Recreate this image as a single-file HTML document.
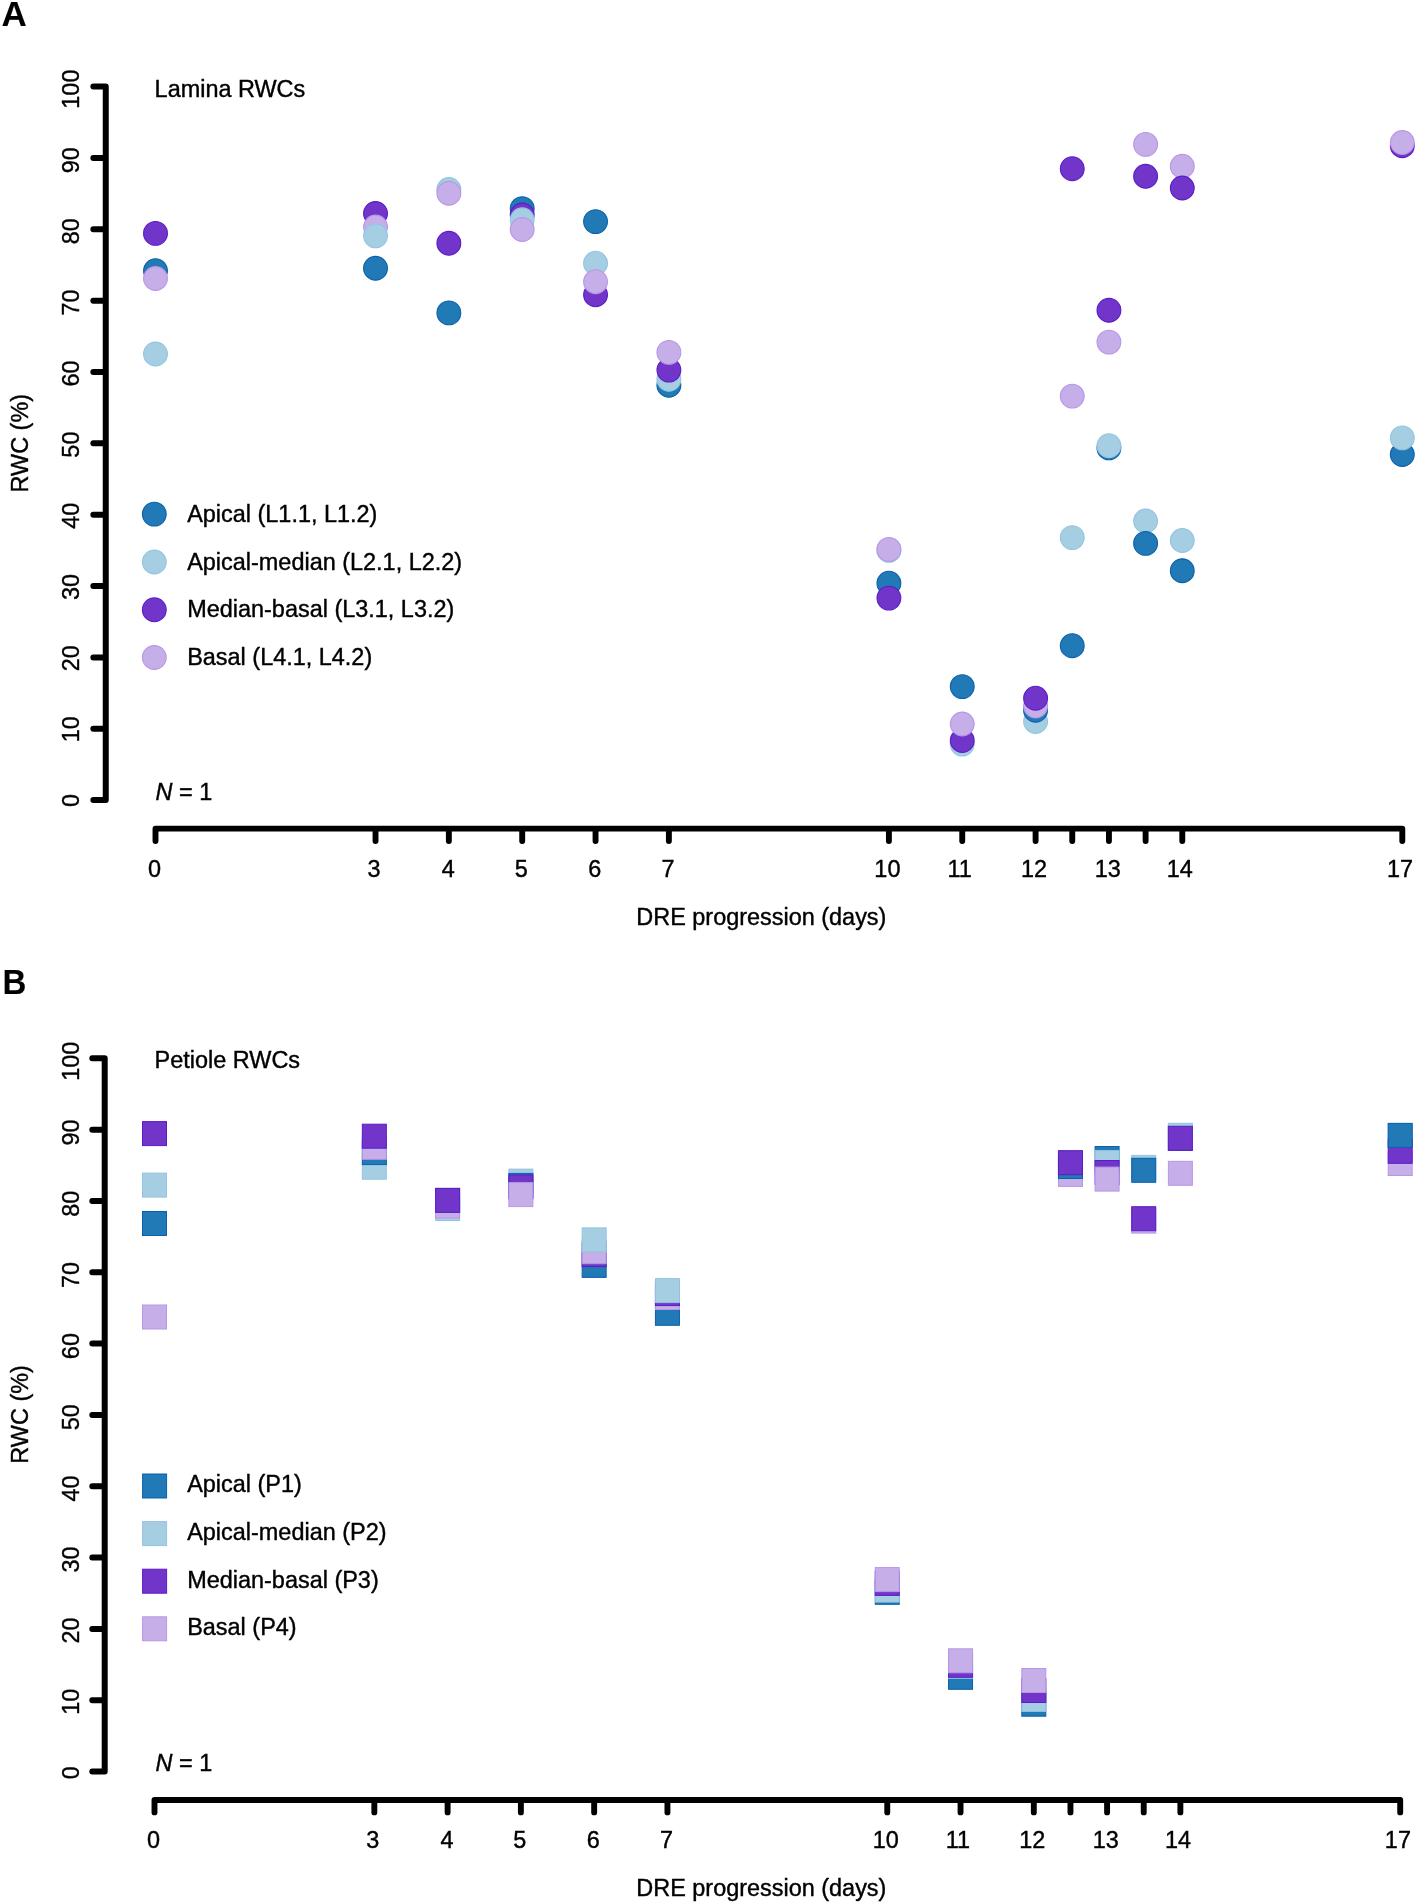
<!DOCTYPE html>
<html><head><meta charset="utf-8">
<style>
html,body{margin:0;padding:0;background:#fff;width:1418px;height:1904px;overflow:hidden;}
svg{display:block;will-change:transform;}
text{font-family:"Liberation Sans", sans-serif;fill:#000;stroke:#000;stroke-width:0.4px;}
</style></head><body>
<svg width="1418" height="1904" viewBox="0 0 1418 1904">
<rect width="1418" height="1904" fill="#fff"/>
<text x="1.5" y="26.0" font-size="35.0" font-weight="bold" style="stroke-width:0.1px">A</text>
<text x="0" y="0" transform="translate(2.4 994.0) scale(0.93 1)" font-size="35.5" font-weight="bold" style="stroke-width:0.1px">B</text>
<path d="M105.75,86.60 L105.75,800.10 M93.35,800.10 L105.75,800.10 M93.35,728.75 L105.75,728.75 M93.35,657.40 L105.75,657.40 M93.35,586.05 L105.75,586.05 M93.35,514.70 L105.75,514.70 M93.35,443.35 L105.75,443.35 M93.35,372.00 L105.75,372.00 M93.35,300.65 L105.75,300.65 M93.35,229.30 L105.75,229.30 M93.35,157.95 L105.75,157.95 M93.35,86.60 L105.75,86.60" stroke="#000" stroke-width="6.0" stroke-linecap="round" stroke-linejoin="round" fill="none"/>
<path d="M155.50,828.65 L1402.30,828.65 M155.50,828.65 L155.50,841.05 M375.52,828.65 L375.52,841.05 M448.86,828.65 L448.86,841.05 M522.21,828.65 L522.21,841.05 M595.55,828.65 L595.55,841.05 M668.89,828.65 L668.89,841.05 M888.91,828.65 L888.91,841.05 M962.25,828.65 L962.25,841.05 M1035.59,828.65 L1035.59,841.05 M1072.26,828.65 L1072.26,841.05 M1108.94,828.65 L1108.94,841.05 M1145.61,828.65 L1145.61,841.05 M1182.28,828.65 L1182.28,841.05 M1402.30,828.65 L1402.30,841.05" stroke="#000" stroke-width="5.9" stroke-linecap="round" stroke-linejoin="round" fill="none"/>
<text x="79.10" y="800.50" transform="rotate(-90 79.10 800.50)" text-anchor="middle" font-size="23.45">0</text>
<text x="79.10" y="729.32" transform="rotate(-90 79.10 729.32)" text-anchor="middle" font-size="23.45">10</text>
<text x="79.10" y="658.14" transform="rotate(-90 79.10 658.14)" text-anchor="middle" font-size="23.45">20</text>
<text x="79.10" y="586.96" transform="rotate(-90 79.10 586.96)" text-anchor="middle" font-size="23.45">30</text>
<text x="79.10" y="515.78" transform="rotate(-90 79.10 515.78)" text-anchor="middle" font-size="23.45">40</text>
<text x="79.10" y="444.60" transform="rotate(-90 79.10 444.60)" text-anchor="middle" font-size="23.45">50</text>
<text x="79.10" y="373.50" transform="rotate(-90 79.10 373.50)" text-anchor="middle" font-size="23.45">60</text>
<text x="79.10" y="302.40" transform="rotate(-90 79.10 302.40)" text-anchor="middle" font-size="23.45">70</text>
<text x="79.10" y="231.30" transform="rotate(-90 79.10 231.30)" text-anchor="middle" font-size="23.45">80</text>
<text x="79.10" y="160.20" transform="rotate(-90 79.10 160.20)" text-anchor="middle" font-size="23.45">90</text>
<text x="79.10" y="89.10" transform="rotate(-90 79.10 89.10)" text-anchor="middle" font-size="23.45">100</text>
<text x="27.9" y="443.20" transform="rotate(-90 27.9 443.20)" text-anchor="middle" font-size="23.45">RWC (%)</text>
<text x="154.40" y="876.70" text-anchor="middle" font-size="23.45">0</text>
<text x="374.02" y="876.70" text-anchor="middle" font-size="23.45">3</text>
<text x="448.16" y="876.70" text-anchor="middle" font-size="23.45">4</text>
<text x="521.21" y="876.70" text-anchor="middle" font-size="23.45">5</text>
<text x="594.65" y="876.70" text-anchor="middle" font-size="23.45">6</text>
<text x="667.94" y="876.70" text-anchor="middle" font-size="23.45">7</text>
<text x="887.41" y="876.70" text-anchor="middle" font-size="23.45">10</text>
<text x="959.55" y="876.70" text-anchor="middle" font-size="23.45">11</text>
<text x="1034.09" y="876.70" text-anchor="middle" font-size="23.45">12</text>
<text x="1107.69" y="876.70" text-anchor="middle" font-size="23.45">13</text>
<text x="1179.83" y="876.70" text-anchor="middle" font-size="23.45">14</text>
<text x="1400.00" y="876.70" text-anchor="middle" font-size="23.45">17</text>
<text x="636.3" y="924.50" font-size="23.45">DRE progression (days)</text>
<text x="154.6" y="96.90" font-size="23.45">Lamina RWCs</text>
<text x="155.5" y="800.20" font-size="23.45"><tspan font-style="italic">N</tspan> = 1</text>
<circle cx="154.30" cy="514.10" r="11.9" fill="#2179b5" stroke="#0a60ab" stroke-width="1.1"/>
<text x="187.2" y="521.70" font-size="23.45">Apical (L1.1, L1.2)</text>
<circle cx="154.30" cy="562.00" r="11.9" fill="#a6cee3" stroke="#94c4e0" stroke-width="1.1"/>
<text x="187.2" y="569.60" font-size="23.45">Apical-median (L2.1, L2.2)</text>
<circle cx="154.30" cy="609.80" r="11.9" fill="#7136c9" stroke="#5a1cc8" stroke-width="1.1"/>
<text x="187.2" y="617.40" font-size="23.45">Median-basal (L3.1, L3.2)</text>
<circle cx="154.30" cy="657.50" r="11.9" fill="#c6aee8" stroke="#b896e6" stroke-width="1.1"/>
<text x="187.2" y="665.10" font-size="23.45">Basal (L4.1, L4.2)</text>
<circle cx="155.50" cy="233.40" r="11.9" fill="#7136c9" stroke="#5a1cc8" stroke-width="1.1"/>
<circle cx="155.50" cy="270.70" r="11.9" fill="#2179b5" stroke="#0a60ab" stroke-width="1.1"/>
<circle cx="155.50" cy="278.50" r="11.9" fill="#c6aee8" stroke="#b896e6" stroke-width="1.1"/>
<circle cx="155.50" cy="354.00" r="11.9" fill="#a6cee3" stroke="#94c4e0" stroke-width="1.1"/>
<circle cx="375.52" cy="268.30" r="11.9" fill="#2179b5" stroke="#0a60ab" stroke-width="1.1"/>
<circle cx="375.52" cy="213.50" r="11.9" fill="#7136c9" stroke="#5a1cc8" stroke-width="1.1"/>
<circle cx="375.52" cy="227.00" r="11.9" fill="#c6aee8" stroke="#b896e6" stroke-width="1.1"/>
<circle cx="375.52" cy="235.85" r="11.9" fill="#a6cee3" stroke="#94c4e0" stroke-width="1.1"/>
<circle cx="448.86" cy="312.90" r="11.9" fill="#2179b5" stroke="#0a60ab" stroke-width="1.1"/>
<circle cx="448.86" cy="243.30" r="11.9" fill="#7136c9" stroke="#5a1cc8" stroke-width="1.1"/>
<circle cx="448.86" cy="189.50" r="11.9" fill="#a6cee3" stroke="#94c4e0" stroke-width="1.1"/>
<circle cx="448.86" cy="193.30" r="11.9" fill="#c6aee8" stroke="#b896e6" stroke-width="1.1"/>
<circle cx="522.21" cy="208.60" r="11.9" fill="#2179b5" stroke="#0a60ab" stroke-width="1.1"/>
<circle cx="522.21" cy="215.05" r="11.9" fill="#7136c9" stroke="#5a1cc8" stroke-width="1.1"/>
<circle cx="522.21" cy="219.80" r="11.9" fill="#a6cee3" stroke="#94c4e0" stroke-width="1.1"/>
<circle cx="522.21" cy="229.50" r="11.9" fill="#c6aee8" stroke="#b896e6" stroke-width="1.1"/>
<circle cx="595.55" cy="221.60" r="11.9" fill="#2179b5" stroke="#0a60ab" stroke-width="1.1"/>
<circle cx="595.55" cy="294.80" r="11.9" fill="#7136c9" stroke="#5a1cc8" stroke-width="1.1"/>
<circle cx="595.55" cy="263.20" r="11.9" fill="#a6cee3" stroke="#94c4e0" stroke-width="1.1"/>
<circle cx="595.55" cy="281.70" r="11.9" fill="#c6aee8" stroke="#b896e6" stroke-width="1.1"/>
<circle cx="668.89" cy="385.30" r="11.9" fill="#2179b5" stroke="#0a60ab" stroke-width="1.1"/>
<circle cx="668.89" cy="379.30" r="11.9" fill="#a6cee3" stroke="#94c4e0" stroke-width="1.1"/>
<circle cx="668.89" cy="370.10" r="11.9" fill="#7136c9" stroke="#5a1cc8" stroke-width="1.1"/>
<circle cx="668.89" cy="352.40" r="11.9" fill="#c6aee8" stroke="#b896e6" stroke-width="1.1"/>
<circle cx="888.91" cy="550.40" r="11.9" fill="#a6cee3" stroke="#94c4e0" stroke-width="1.1"/>
<circle cx="888.91" cy="549.40" r="11.9" fill="#c6aee8" stroke="#b896e6" stroke-width="1.1"/>
<circle cx="888.91" cy="583.20" r="11.9" fill="#2179b5" stroke="#0a60ab" stroke-width="1.1"/>
<circle cx="888.91" cy="598.10" r="11.9" fill="#7136c9" stroke="#5a1cc8" stroke-width="1.1"/>
<circle cx="962.25" cy="686.60" r="11.9" fill="#2179b5" stroke="#0a60ab" stroke-width="1.1"/>
<circle cx="962.25" cy="744.10" r="11.9" fill="#a6cee3" stroke="#94c4e0" stroke-width="1.1"/>
<circle cx="962.25" cy="740.50" r="11.9" fill="#7136c9" stroke="#5a1cc8" stroke-width="1.1"/>
<circle cx="962.25" cy="724.00" r="11.9" fill="#c6aee8" stroke="#b896e6" stroke-width="1.1"/>
<circle cx="1035.59" cy="721.50" r="11.9" fill="#a6cee3" stroke="#94c4e0" stroke-width="1.1"/>
<circle cx="1035.59" cy="710.20" r="11.9" fill="#2179b5" stroke="#0a60ab" stroke-width="1.1"/>
<circle cx="1035.59" cy="706.00" r="11.9" fill="#c6aee8" stroke="#b896e6" stroke-width="1.1"/>
<circle cx="1035.59" cy="698.20" r="11.9" fill="#7136c9" stroke="#5a1cc8" stroke-width="1.1"/>
<circle cx="1072.26" cy="168.70" r="11.9" fill="#7136c9" stroke="#5a1cc8" stroke-width="1.1"/>
<circle cx="1072.26" cy="396.10" r="11.9" fill="#c6aee8" stroke="#b896e6" stroke-width="1.1"/>
<circle cx="1072.26" cy="537.60" r="11.9" fill="#a6cee3" stroke="#94c4e0" stroke-width="1.1"/>
<circle cx="1072.26" cy="645.70" r="11.9" fill="#2179b5" stroke="#0a60ab" stroke-width="1.1"/>
<circle cx="1108.94" cy="310.30" r="11.9" fill="#7136c9" stroke="#5a1cc8" stroke-width="1.1"/>
<circle cx="1108.94" cy="342.10" r="11.9" fill="#c6aee8" stroke="#b896e6" stroke-width="1.1"/>
<circle cx="1108.94" cy="447.90" r="11.9" fill="#2179b5" stroke="#0a60ab" stroke-width="1.1"/>
<circle cx="1108.94" cy="445.80" r="11.9" fill="#a6cee3" stroke="#94c4e0" stroke-width="1.1"/>
<circle cx="1145.61" cy="144.40" r="11.9" fill="#c6aee8" stroke="#b896e6" stroke-width="1.1"/>
<circle cx="1145.61" cy="176.30" r="11.9" fill="#7136c9" stroke="#5a1cc8" stroke-width="1.1"/>
<circle cx="1145.61" cy="521.00" r="11.9" fill="#a6cee3" stroke="#94c4e0" stroke-width="1.1"/>
<circle cx="1145.61" cy="543.40" r="11.9" fill="#2179b5" stroke="#0a60ab" stroke-width="1.1"/>
<circle cx="1182.28" cy="166.30" r="11.9" fill="#c6aee8" stroke="#b896e6" stroke-width="1.1"/>
<circle cx="1182.28" cy="188.00" r="11.9" fill="#7136c9" stroke="#5a1cc8" stroke-width="1.1"/>
<circle cx="1182.28" cy="540.50" r="11.9" fill="#a6cee3" stroke="#94c4e0" stroke-width="1.1"/>
<circle cx="1182.28" cy="570.75" r="11.9" fill="#2179b5" stroke="#0a60ab" stroke-width="1.1"/>
<circle cx="1402.30" cy="145.70" r="11.9" fill="#7136c9" stroke="#5a1cc8" stroke-width="1.1"/>
<circle cx="1402.30" cy="142.50" r="11.9" fill="#c6aee8" stroke="#b896e6" stroke-width="1.1"/>
<circle cx="1402.30" cy="454.50" r="11.9" fill="#2179b5" stroke="#0a60ab" stroke-width="1.1"/>
<circle cx="1402.30" cy="437.90" r="11.9" fill="#a6cee3" stroke="#94c4e0" stroke-width="1.1"/>
<path d="M104.70,1058.30 L104.70,1771.60 M92.30,1771.60 L104.70,1771.60 M92.30,1700.27 L104.70,1700.27 M92.30,1628.94 L104.70,1628.94 M92.30,1557.61 L104.70,1557.61 M92.30,1486.28 L104.70,1486.28 M92.30,1414.95 L104.70,1414.95 M92.30,1343.62 L104.70,1343.62 M92.30,1272.29 L104.70,1272.29 M92.30,1200.96 L104.70,1200.96 M92.30,1129.63 L104.70,1129.63 M92.30,1058.30 L104.70,1058.30" stroke="#000" stroke-width="6.0" stroke-linecap="round" stroke-linejoin="round" fill="none"/>
<path d="M154.50,1800.00 L1400.20,1800.00 M154.50,1800.00 L154.50,1812.40 M374.33,1800.00 L374.33,1812.40 M447.61,1800.00 L447.61,1812.40 M520.88,1800.00 L520.88,1812.40 M594.16,1800.00 L594.16,1812.40 M667.44,1800.00 L667.44,1812.40 M887.26,1800.00 L887.26,1812.40 M960.54,1800.00 L960.54,1812.40 M1033.82,1800.00 L1033.82,1812.40 M1070.46,1800.00 L1070.46,1812.40 M1107.09,1800.00 L1107.09,1812.40 M1143.73,1800.00 L1143.73,1812.40 M1180.37,1800.00 L1180.37,1812.40 M1400.20,1800.00 L1400.20,1812.40" stroke="#000" stroke-width="5.9" stroke-linecap="round" stroke-linejoin="round" fill="none"/>
<text x="79.10" y="1772.70" transform="rotate(-90 79.10 1772.70)" text-anchor="middle" font-size="23.45">0</text>
<text x="79.10" y="1701.62" transform="rotate(-90 79.10 1701.62)" text-anchor="middle" font-size="23.45">10</text>
<text x="79.10" y="1630.54" transform="rotate(-90 79.10 1630.54)" text-anchor="middle" font-size="23.45">20</text>
<text x="79.10" y="1559.46" transform="rotate(-90 79.10 1559.46)" text-anchor="middle" font-size="23.45">30</text>
<text x="79.10" y="1488.38" transform="rotate(-90 79.10 1488.38)" text-anchor="middle" font-size="23.45">40</text>
<text x="79.10" y="1417.30" transform="rotate(-90 79.10 1417.30)" text-anchor="middle" font-size="23.45">50</text>
<text x="79.10" y="1346.10" transform="rotate(-90 79.10 1346.10)" text-anchor="middle" font-size="23.45">60</text>
<text x="79.10" y="1274.90" transform="rotate(-90 79.10 1274.90)" text-anchor="middle" font-size="23.45">70</text>
<text x="79.10" y="1203.70" transform="rotate(-90 79.10 1203.70)" text-anchor="middle" font-size="23.45">80</text>
<text x="79.10" y="1132.50" transform="rotate(-90 79.10 1132.50)" text-anchor="middle" font-size="23.45">90</text>
<text x="79.10" y="1061.30" transform="rotate(-90 79.10 1061.30)" text-anchor="middle" font-size="23.45">100</text>
<text x="27.9" y="1414.40" transform="rotate(-90 27.9 1414.40)" text-anchor="middle" font-size="23.45">RWC (%)</text>
<text x="153.40" y="1847.90" text-anchor="middle" font-size="23.45">0</text>
<text x="372.83" y="1847.90" text-anchor="middle" font-size="23.45">3</text>
<text x="446.91" y="1847.90" text-anchor="middle" font-size="23.45">4</text>
<text x="519.88" y="1847.90" text-anchor="middle" font-size="23.45">5</text>
<text x="593.26" y="1847.90" text-anchor="middle" font-size="23.45">6</text>
<text x="666.49" y="1847.90" text-anchor="middle" font-size="23.45">7</text>
<text x="885.76" y="1847.90" text-anchor="middle" font-size="23.45">10</text>
<text x="957.84" y="1847.90" text-anchor="middle" font-size="23.45">11</text>
<text x="1032.32" y="1847.90" text-anchor="middle" font-size="23.45">12</text>
<text x="1105.84" y="1847.90" text-anchor="middle" font-size="23.45">13</text>
<text x="1177.92" y="1847.90" text-anchor="middle" font-size="23.45">14</text>
<text x="1397.90" y="1847.90" text-anchor="middle" font-size="23.45">17</text>
<text x="636.3" y="1895.70" font-size="23.45">DRE progression (days)</text>
<text x="154.6" y="1068.10" font-size="23.45">Petiole RWCs</text>
<text x="155.5" y="1771.40" font-size="23.45"><tspan font-style="italic">N</tspan> = 1</text>
<rect x="142.60" y="1474.00" width="24.0" height="24.0" fill="#2179b5" stroke="#0a60ab" stroke-width="1" stroke-linejoin="miter"/>
<text x="187.2" y="1492.40" font-size="23.45">Apical (P1)</text>
<rect x="142.60" y="1521.60" width="24.0" height="24.0" fill="#a6cee3" stroke="#94c4e0" stroke-width="1" stroke-linejoin="miter"/>
<text x="187.2" y="1540.00" font-size="23.45">Apical-median (P2)</text>
<rect x="142.60" y="1569.20" width="24.0" height="24.0" fill="#7136c9" stroke="#5a1cc8" stroke-width="1" stroke-linejoin="miter"/>
<text x="187.2" y="1587.60" font-size="23.45">Median-basal (P3)</text>
<rect x="142.60" y="1616.80" width="24.0" height="24.0" fill="#c6aee8" stroke="#b896e6" stroke-width="1" stroke-linejoin="miter"/>
<text x="187.2" y="1635.20" font-size="23.45">Basal (P4)</text>
<rect x="142.50" y="1121.60" width="24.0" height="24.0" fill="#7136c9" stroke="#5a1cc8" stroke-width="1" stroke-linejoin="miter"/>
<rect x="142.50" y="1173.10" width="24.0" height="24.0" fill="#a6cee3" stroke="#94c4e0" stroke-width="1" stroke-linejoin="miter"/>
<rect x="142.50" y="1211.50" width="24.0" height="24.0" fill="#2179b5" stroke="#0a60ab" stroke-width="1" stroke-linejoin="miter"/>
<rect x="142.50" y="1305.00" width="24.0" height="24.0" fill="#c6aee8" stroke="#b896e6" stroke-width="1" stroke-linejoin="miter"/>
<rect x="362.33" y="1155.20" width="24.0" height="24.0" fill="#a6cee3" stroke="#94c4e0" stroke-width="1" stroke-linejoin="miter"/>
<rect x="362.33" y="1140.60" width="24.0" height="24.0" fill="#2179b5" stroke="#0a60ab" stroke-width="1" stroke-linejoin="miter"/>
<rect x="362.33" y="1135.30" width="24.0" height="24.0" fill="#c6aee8" stroke="#b896e6" stroke-width="1" stroke-linejoin="miter"/>
<rect x="362.33" y="1124.20" width="24.0" height="24.0" fill="#7136c9" stroke="#5a1cc8" stroke-width="1" stroke-linejoin="miter"/>
<rect x="435.61" y="1188.40" width="24.0" height="24.0" fill="#2179b5" stroke="#0a60ab" stroke-width="1" stroke-linejoin="miter"/>
<rect x="435.61" y="1196.50" width="24.0" height="24.0" fill="#a6cee3" stroke="#94c4e0" stroke-width="1" stroke-linejoin="miter"/>
<rect x="435.61" y="1194.00" width="24.0" height="24.0" fill="#c6aee8" stroke="#b896e6" stroke-width="1" stroke-linejoin="miter"/>
<rect x="435.61" y="1188.40" width="24.0" height="24.0" fill="#7136c9" stroke="#5a1cc8" stroke-width="1" stroke-linejoin="miter"/>
<rect x="508.88" y="1169.10" width="24.0" height="24.0" fill="#a6cee3" stroke="#94c4e0" stroke-width="1" stroke-linejoin="miter"/>
<rect x="508.88" y="1173.40" width="24.0" height="24.0" fill="#2179b5" stroke="#0a60ab" stroke-width="1" stroke-linejoin="miter"/>
<rect x="508.88" y="1175.00" width="24.0" height="24.0" fill="#7136c9" stroke="#5a1cc8" stroke-width="1" stroke-linejoin="miter"/>
<rect x="508.88" y="1182.60" width="24.0" height="24.0" fill="#c6aee8" stroke="#b896e6" stroke-width="1" stroke-linejoin="miter"/>
<rect x="582.16" y="1253.40" width="24.0" height="24.0" fill="#2179b5" stroke="#0a60ab" stroke-width="1" stroke-linejoin="miter"/>
<rect x="582.16" y="1242.60" width="24.0" height="24.0" fill="#7136c9" stroke="#5a1cc8" stroke-width="1" stroke-linejoin="miter"/>
<rect x="582.16" y="1239.70" width="24.0" height="24.0" fill="#c6aee8" stroke="#b896e6" stroke-width="1" stroke-linejoin="miter"/>
<rect x="582.16" y="1227.90" width="24.0" height="24.0" fill="#a6cee3" stroke="#94c4e0" stroke-width="1" stroke-linejoin="miter"/>
<rect x="655.44" y="1301.30" width="24.0" height="24.0" fill="#2179b5" stroke="#0a60ab" stroke-width="1" stroke-linejoin="miter"/>
<rect x="655.44" y="1285.50" width="24.0" height="24.0" fill="#c6aee8" stroke="#b896e6" stroke-width="1" stroke-linejoin="miter"/>
<rect x="655.44" y="1281.60" width="24.0" height="24.0" fill="#7136c9" stroke="#5a1cc8" stroke-width="1" stroke-linejoin="miter"/>
<rect x="655.44" y="1278.60" width="24.0" height="24.0" fill="#a6cee3" stroke="#94c4e0" stroke-width="1" stroke-linejoin="miter"/>
<rect x="875.26" y="1580.30" width="24.0" height="24.0" fill="#2179b5" stroke="#0a60ab" stroke-width="1" stroke-linejoin="miter"/>
<rect x="875.26" y="1578.10" width="24.0" height="24.0" fill="#a6cee3" stroke="#94c4e0" stroke-width="1" stroke-linejoin="miter"/>
<rect x="875.26" y="1571.40" width="24.0" height="24.0" fill="#7136c9" stroke="#5a1cc8" stroke-width="1" stroke-linejoin="miter"/>
<rect x="875.26" y="1567.60" width="24.0" height="24.0" fill="#c6aee8" stroke="#b896e6" stroke-width="1" stroke-linejoin="miter"/>
<rect x="948.54" y="1665.30" width="24.0" height="24.0" fill="#2179b5" stroke="#0a60ab" stroke-width="1" stroke-linejoin="miter"/>
<rect x="948.54" y="1654.30" width="24.0" height="24.0" fill="#a6cee3" stroke="#94c4e0" stroke-width="1" stroke-linejoin="miter"/>
<rect x="948.54" y="1653.30" width="24.0" height="24.0" fill="#7136c9" stroke="#5a1cc8" stroke-width="1" stroke-linejoin="miter"/>
<rect x="948.54" y="1648.80" width="24.0" height="24.0" fill="#c6aee8" stroke="#b896e6" stroke-width="1" stroke-linejoin="miter"/>
<rect x="1021.82" y="1692.20" width="24.0" height="24.0" fill="#2179b5" stroke="#0a60ab" stroke-width="1" stroke-linejoin="miter"/>
<rect x="1021.82" y="1687.40" width="24.0" height="24.0" fill="#a6cee3" stroke="#94c4e0" stroke-width="1" stroke-linejoin="miter"/>
<rect x="1021.82" y="1678.50" width="24.0" height="24.0" fill="#7136c9" stroke="#5a1cc8" stroke-width="1" stroke-linejoin="miter"/>
<rect x="1021.82" y="1668.50" width="24.0" height="24.0" fill="#c6aee8" stroke="#b896e6" stroke-width="1" stroke-linejoin="miter"/>
<rect x="1058.46" y="1150.70" width="24.0" height="24.0" fill="#a6cee3" stroke="#94c4e0" stroke-width="1" stroke-linejoin="miter"/>
<rect x="1058.46" y="1162.40" width="24.0" height="24.0" fill="#c6aee8" stroke="#b896e6" stroke-width="1" stroke-linejoin="miter"/>
<rect x="1058.46" y="1154.50" width="24.0" height="24.0" fill="#2179b5" stroke="#0a60ab" stroke-width="1" stroke-linejoin="miter"/>
<rect x="1058.46" y="1150.70" width="24.0" height="24.0" fill="#7136c9" stroke="#5a1cc8" stroke-width="1" stroke-linejoin="miter"/>
<rect x="1095.09" y="1146.50" width="24.0" height="24.0" fill="#2179b5" stroke="#0a60ab" stroke-width="1" stroke-linejoin="miter"/>
<rect x="1095.09" y="1150.60" width="24.0" height="24.0" fill="#a6cee3" stroke="#94c4e0" stroke-width="1" stroke-linejoin="miter"/>
<rect x="1095.09" y="1160.50" width="24.0" height="24.0" fill="#7136c9" stroke="#5a1cc8" stroke-width="1" stroke-linejoin="miter"/>
<rect x="1095.09" y="1167.10" width="24.0" height="24.0" fill="#c6aee8" stroke="#b896e6" stroke-width="1" stroke-linejoin="miter"/>
<rect x="1131.73" y="1155.40" width="24.0" height="24.0" fill="#a6cee3" stroke="#94c4e0" stroke-width="1" stroke-linejoin="miter"/>
<rect x="1131.73" y="1158.30" width="24.0" height="24.0" fill="#2179b5" stroke="#0a60ab" stroke-width="1" stroke-linejoin="miter"/>
<rect x="1131.73" y="1209.10" width="24.0" height="24.0" fill="#c6aee8" stroke="#b896e6" stroke-width="1" stroke-linejoin="miter"/>
<rect x="1131.73" y="1206.70" width="24.0" height="24.0" fill="#7136c9" stroke="#5a1cc8" stroke-width="1" stroke-linejoin="miter"/>
<rect x="1168.37" y="1126.30" width="24.0" height="24.0" fill="#2179b5" stroke="#0a60ab" stroke-width="1" stroke-linejoin="miter"/>
<rect x="1168.37" y="1123.30" width="24.0" height="24.0" fill="#a6cee3" stroke="#94c4e0" stroke-width="1" stroke-linejoin="miter"/>
<rect x="1168.37" y="1126.30" width="24.0" height="24.0" fill="#7136c9" stroke="#5a1cc8" stroke-width="1" stroke-linejoin="miter"/>
<rect x="1168.37" y="1161.30" width="24.0" height="24.0" fill="#c6aee8" stroke="#b896e6" stroke-width="1" stroke-linejoin="miter"/>
<rect x="1388.20" y="1123.40" width="24.0" height="24.0" fill="#a6cee3" stroke="#94c4e0" stroke-width="1" stroke-linejoin="miter"/>
<rect x="1388.20" y="1151.50" width="24.0" height="24.0" fill="#c6aee8" stroke="#b896e6" stroke-width="1" stroke-linejoin="miter"/>
<rect x="1388.20" y="1139.30" width="24.0" height="24.0" fill="#7136c9" stroke="#5a1cc8" stroke-width="1" stroke-linejoin="miter"/>
<rect x="1388.20" y="1123.40" width="24.0" height="24.0" fill="#2179b5" stroke="#0a60ab" stroke-width="1" stroke-linejoin="miter"/>
</svg>
</body></html>
